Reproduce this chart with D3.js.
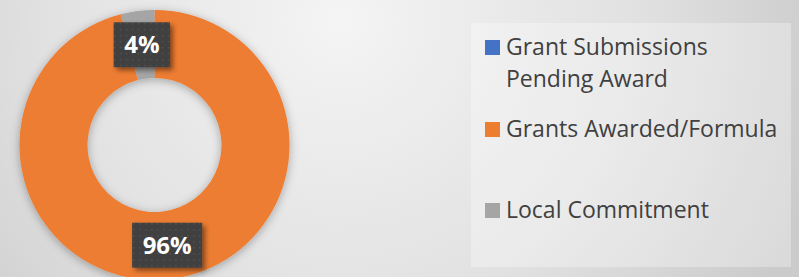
<!DOCTYPE html>
<html><head><meta charset="utf-8">
<script src="https://cdn.jsdelivr.net/npm/d3@7"></script>
<style>html,body{margin:0;padding:0;overflow:hidden;background:#e6e6e6}</style>
</head><body>
<script>
const categories = ["Grant Submissions Pending Award", "Grants Awarded/Formula", "Local Commitment"];
const legendLines = [["Grant Submissions", "Pending Award"], ["Grants Awarded/Formula"], ["Local Commitment"]];
const values = [0, 96, 4];
const colors = ["#4472C4", "#ED7D31", "#A5A5A5"];

const W = 799, H = 277;
const svg = d3.select("body").append("svg").attr("width", W).attr("height", H);
const defs = svg.append("defs");

const bg = defs.append("radialGradient").attr("id", "bg").attr("gradientUnits", "userSpaceOnUse")
  .attr("cx", 340).attr("cy", 20).attr("r", 500);
bg.append("stop").attr("offset", "0").attr("stop-color", "#f4f4f4");
bg.append("stop").attr("offset", "0.6").attr("stop-color", "#e1e1e1");
bg.append("stop").attr("offset", "1").attr("stop-color", "#cbcbcb");

const sh = defs.append("filter").attr("id", "sh").attr("x", "-20%").attr("y", "-20%").attr("width", "140%").attr("height", "140%");
sh.append("feDropShadow").attr("dx", 0).attr("dy", 2).attr("stdDeviation", 5).attr("flood-color", "#000").attr("flood-opacity", 0.3);

const lsh = defs.append("filter").attr("id", "lsh").attr("x", "-30%").attr("y", "-30%").attr("width", "160%").attr("height", "160%");
lsh.append("feDropShadow").attr("dx", 3).attr("dy", 3).attr("stdDeviation", 2.5).attr("flood-color", "#000").attr("flood-opacity", 0.45);

const pat = defs.append("pattern").attr("id", "dots").attr("patternUnits", "userSpaceOnUse").attr("width", 6).attr("height", 6);
pat.append("rect").attr("width", 6).attr("height", 6).attr("fill", "#3f3f3f");
pat.append("rect").attr("x", 2).attr("y", 2).attr("width", 1.5).attr("height", 1.5).attr("fill", "#555");

svg.append("rect").attr("width", W).attr("height", H).attr("fill", "url(#bg)");

// legend box
svg.append("rect").attr("x", 471).attr("y", 23).attr("width", 320).attr("height", 244)
  .attr("fill", "#ffffff").attr("fill-opacity", 0.3);

const cx = 154.5, cy = 145, rOut = 135, rIn = 67;
const pie = d3.pie().sort(null).value(d => d);
const arcs = pie(values);
const arc = d3.arc().innerRadius(rIn).outerRadius(rOut);

const g = svg.append("g").attr("transform", `translate(${cx},${cy})`);
g.append("g").attr("filter", "url(#sh)").selectAll("path").data(arcs).join("path")
  .attr("d", arc).attr("fill", (d, i) => colors[i]);

// labels
const fmt = v => Math.round(v) + "%";
const total = d3.sum(values);
arcs.forEach((d, i) => {
  if (values[i] <= 0) return;
  const [x, y] = arc.centroid(d);
  const lg = g.append("g").attr("transform", `translate(${x},${y})`);
  const box = lg.append("rect").attr("fill", "url(#dots)").attr("filter", "url(#lsh)");
  const t = lg.append("text").attr("text-anchor", "middle").attr("dy", "0.36em")
    .attr("font-family", "'Open Sans', sans-serif").attr("font-weight", 700).attr("font-size", 24)
    .attr("fill", "#ffffff").text(fmt(values[i] / total * 100));
  const bb = t.node().getBBox();
  const bw = bb.width + 21, bh = 45;
  box.attr("x", -bw / 2).attr("y", -bh / 2).attr("width", bw).attr("height", bh);
});

// legend
const legendY = [55, 137, 218];
legendLines.forEach((lines, i) => {
  svg.append("rect").attr("x", 485).attr("y", legendY[i] - 15).attr("width", 15).attr("height", 15).attr("fill", colors[i]);
  const t = svg.append("text").attr("x", 506).attr("y", legendY[i])
    .attr("font-family", "'Open Sans', sans-serif").attr("font-size", 23).attr("fill", "#404040");
  lines.forEach((ln, j) => t.append("tspan").attr("x", 506).attr("dy", j === 0 ? 0 : 32).text(ln));
});
</script>
</body></html>
